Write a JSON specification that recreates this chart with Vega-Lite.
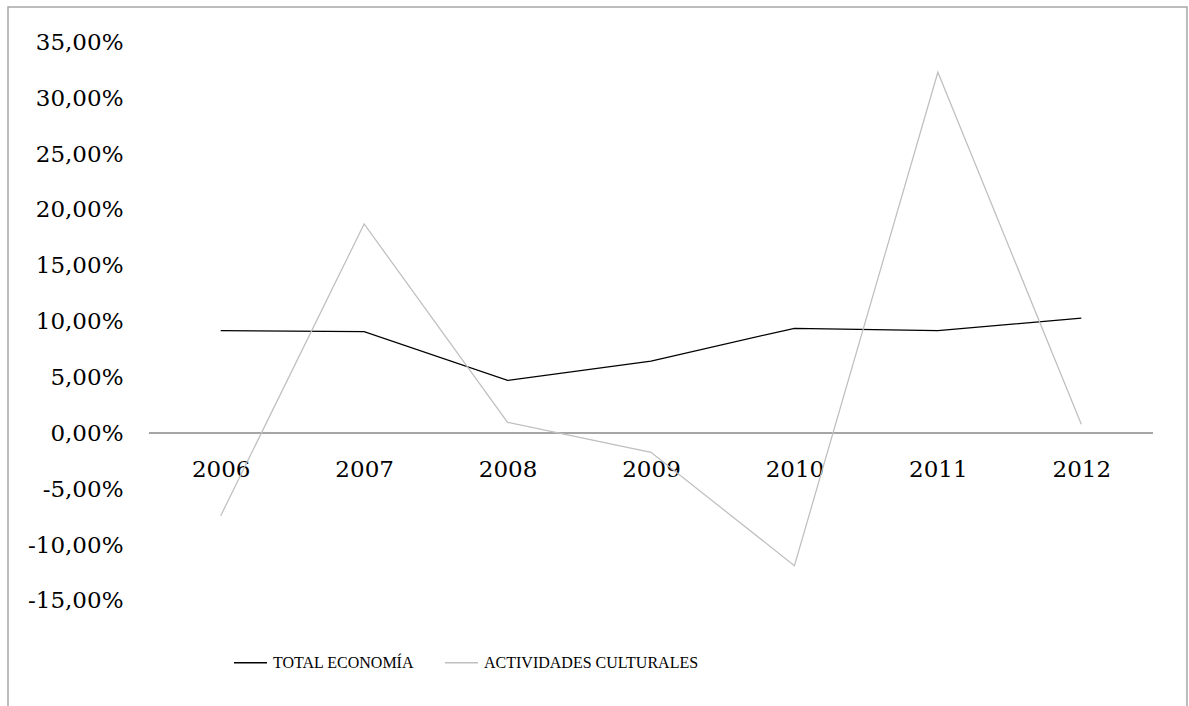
{
  "$schema": "https://vega.github.io/schema/vega-lite/v6.json",
  "width": 1179,
  "height": 700,
  "autosize": {"type": "none"},
  "padding": {"left": 8, "top": 7, "right": 2, "bottom": -1},
  "background": "white",
  "config": {
    "view": {"stroke": "#a6a6a6", "strokeWidth": 1.5},
    "font": "DejaVu Serif"
  },
  "data": {
    "values": [
      {"year": 2006, "serie": "TOTAL ECONOMÍA", "value": 9.19},
      {"year": 2007, "serie": "TOTAL ECONOMÍA", "value": 9.10},
      {"year": 2008, "serie": "TOTAL ECONOMÍA", "value": 4.74},
      {"year": 2009, "serie": "TOTAL ECONOMÍA", "value": 6.47},
      {"year": 2010, "serie": "TOTAL ECONOMÍA", "value": 9.40},
      {"year": 2011, "serie": "TOTAL ECONOMÍA", "value": 9.19},
      {"year": 2012, "serie": "TOTAL ECONOMÍA", "value": 10.30},
      {"year": 2006, "serie": "ACTIVIDADES CULTURALES", "value": -7.38},
      {"year": 2007, "serie": "ACTIVIDADES CULTURALES", "value": 18.74},
      {"year": 2008, "serie": "ACTIVIDADES CULTURALES", "value": 0.98},
      {"year": 2009, "serie": "ACTIVIDADES CULTURALES", "value": -1.70},
      {"year": 2010, "serie": "ACTIVIDADES CULTURALES", "value": -11.85},
      {"year": 2011, "serie": "ACTIVIDADES CULTURALES", "value": 32.32},
      {"year": 2012, "serie": "ACTIVIDADES CULTURALES", "value": 0.81}
    ]
  },
  "layer": [
    {
      "mark": {"type": "rule", "color": "#a6a6a6", "strokeWidth": 1.5},
      "encoding": {
        "x": {"datum": 2005.5, "type": "quantitative"},
        "x2": {"datum": 2012.5},
        "y": {"datum": 0, "type": "quantitative"}
      }
    },
    {
      "mark": {"type": "line", "strokeWidth": 1.25},
      "encoding": {
        "x": {
          "field": "year",
          "type": "quantitative",
          "scale": {"domain": [2004.517, 2012.737], "nice": false, "zero": false},
          "axis": {
            "title": null,
            "values": [2006, 2007, 2008, 2009, 2010, 2011, 2012],
            "format": "d",
            "grid": false,
            "domain": false,
            "ticks": false,
            "labelPadding": 0,
            "offset": -249,
            "labelFont": "DejaVu Serif",
            "labelFontSize": 23,
            "labelColor": "#000000",
            "labelBaseline": "top"
          }
        },
        "y": {
          "field": "value",
          "type": "quantitative",
          "scale": {"domain": [-24.5, 38.16], "nice": false, "zero": false},
          "axis": {
            "title": null,
            "values": [-15, -10, -5, 0, 5, 10, 15, 20, 25, 30, 35],
            "labelExpr": "(datum.value < 0 ? '-' : '') + replace(format(abs(datum.value), '.2f'), '.', ',') + '%'",
            "grid": false,
            "domain": false,
            "ticks": false,
            "labelPadding": 0,
            "offset": -115,
            "labelFont": "DejaVu Serif",
            "labelFontSize": 23,
            "labelColor": "#000000"
          }
        },
        "color": {
          "field": "serie",
          "type": "nominal",
          "scale": {
            "domain": ["TOTAL ECONOMÍA", "ACTIVIDADES CULTURALES"],
            "range": ["#000000", "#bfbfbf"]
          },
          "legend": {
            "title": null,
            "orient": "none",
            "legendX": 225,
            "legendY": 638,
            "direction": "horizontal",
            "symbolType": "stroke",
            "symbolSize": 1089,
            "symbolStrokeWidth": 1.5,
            "labelOffset": 5,
            "columnPadding": 27,
            "labelFont": "Liberation Serif",
            "labelFontSize": 16,
            "labelColor": "#000000",
            "labelLimit": 400
          }
        }
      }
    }
  ]
}
